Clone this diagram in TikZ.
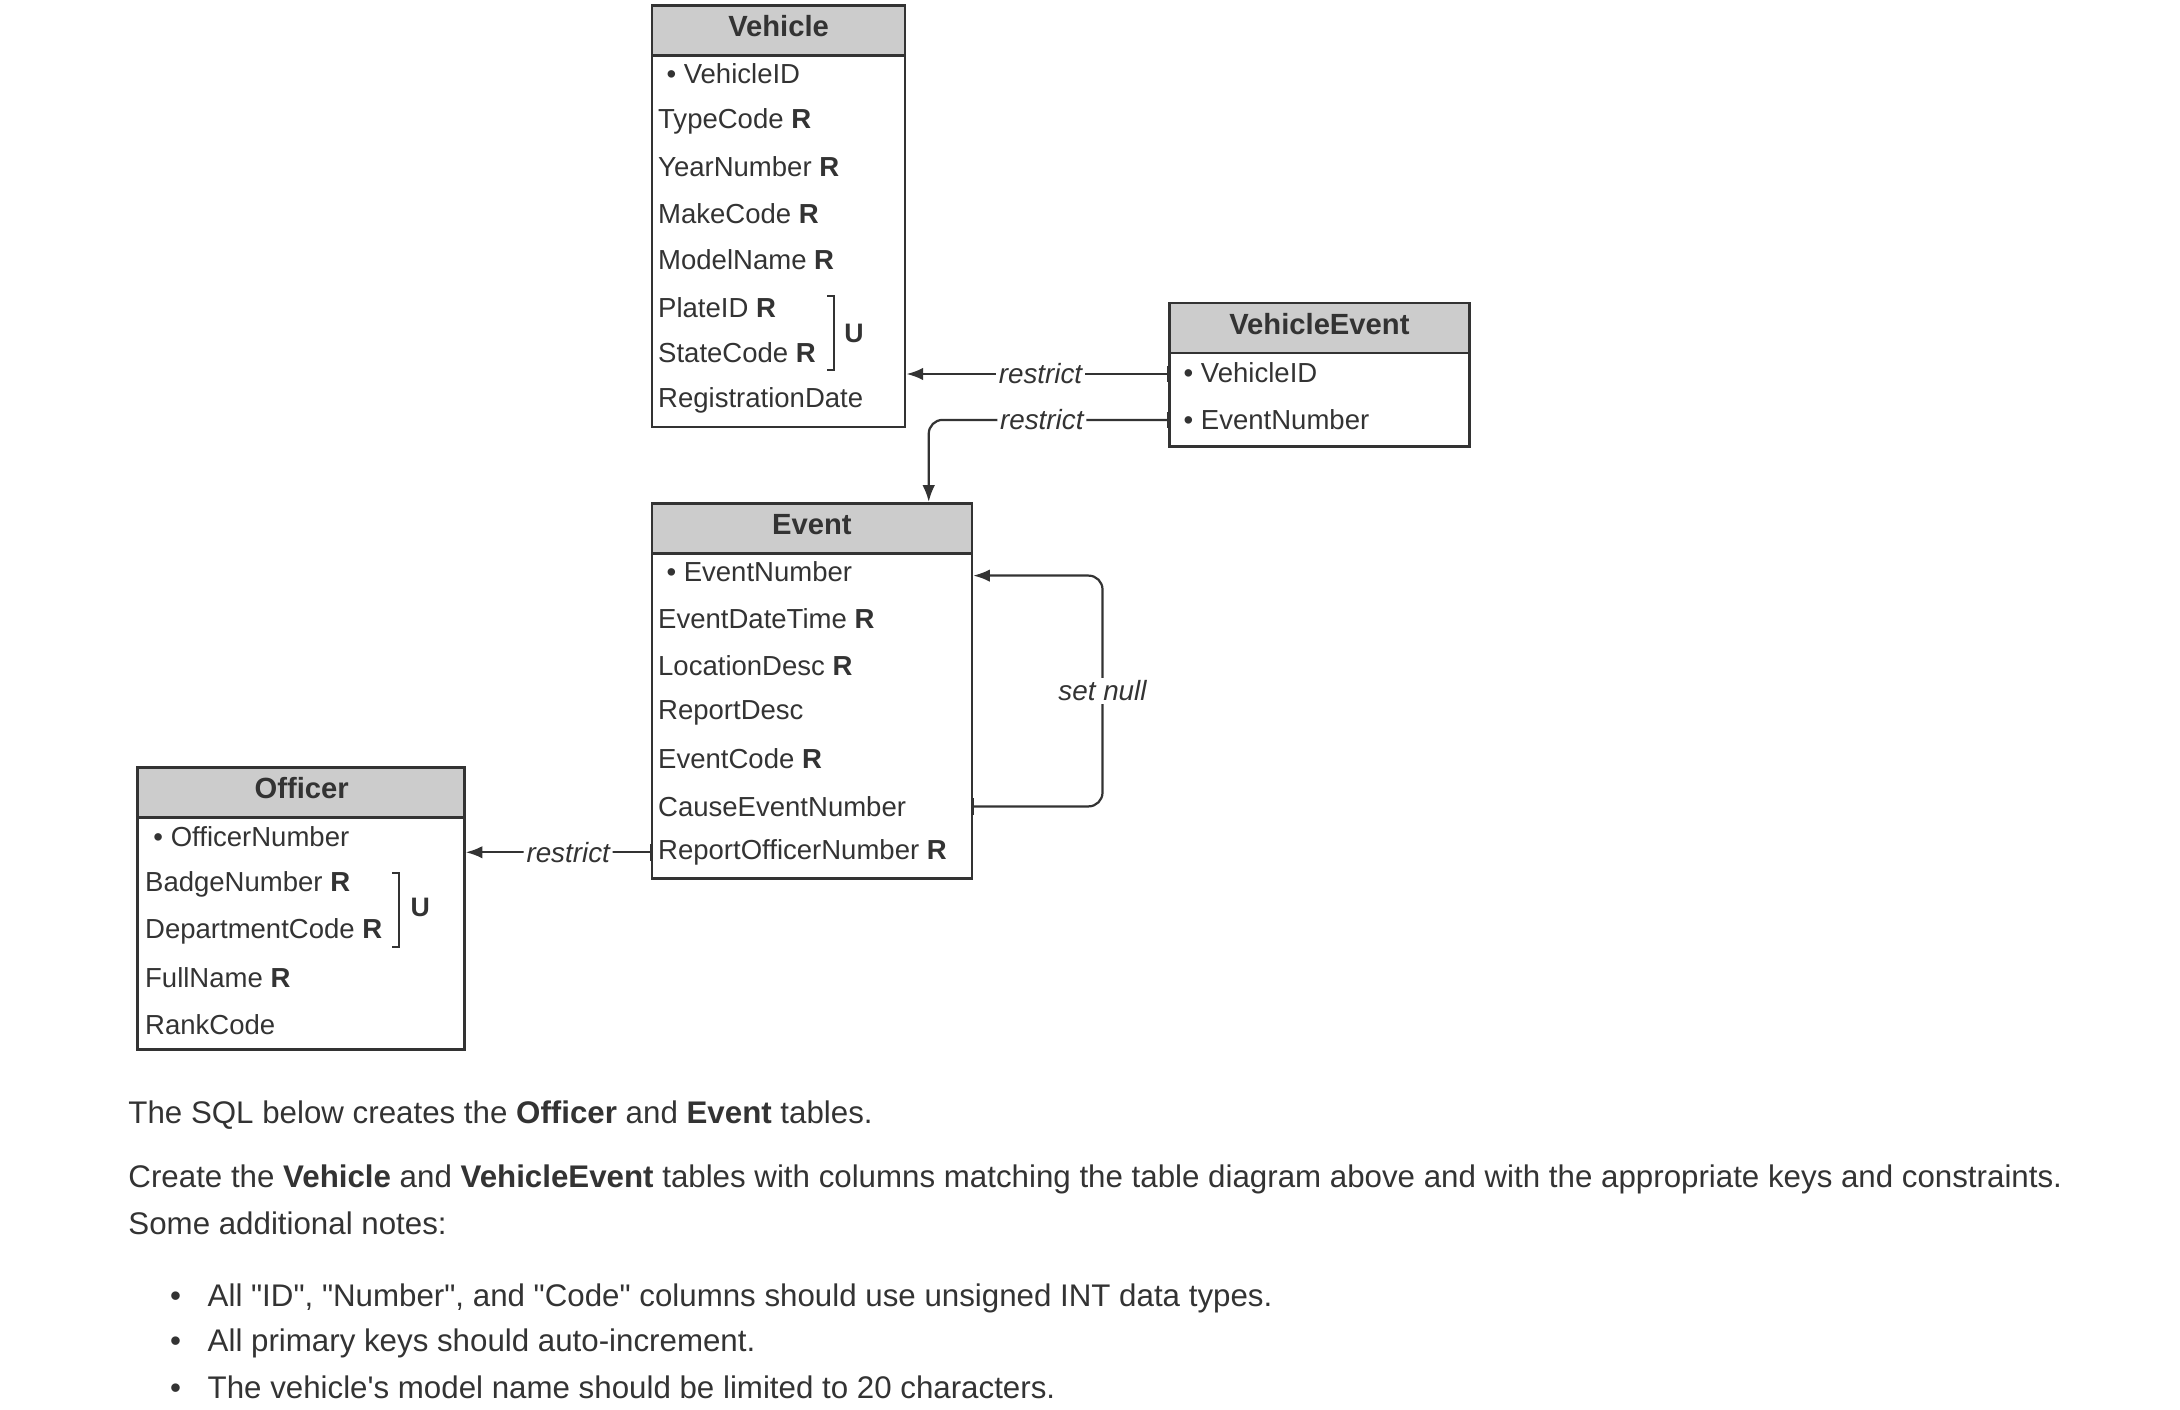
\documentclass[tikz,border=0pt]{standalone}
\usepackage{fontspec}
\setmainfont{Liberation Sans}
\newfontfamily\pf{Liberation Sans}
\usetikzlibrary{arrows.meta}
\definecolor{tx}{HTML}{333333}
\definecolor{hd}{HTML}{CCCCCC}
\newcommand{\dq}{{\pf\symbol{34}}}
\begin{document}
\begin{tikzpicture}[x=0.5pt,y=-0.5pt,
  hdr/.style={draw=tx,fill=hd,line width=0.9pt},
  tbl/.style={draw=tx,line width=0.9pt},
  ttl/.style={font=\fontsize{10.5}{12}\selectfont\bfseries,text=tx},
  row/.style={anchor=west,font=\fontsize{9.9}{11}\selectfont,text=tx,inner sep=0pt},
  body/.style={anchor=west,font=\fontsize{11.25}{13}\selectfont,text=tx,inner sep=0pt},
  lbl/.style={font=\fontsize{10}{12}\selectfont\itshape,text=tx,fill=white,inner sep=1pt},
  conn/.style={draw=tx,line width=0.8pt,{Bar[width=6pt]}-{Latex[length=6pt,width=4.5pt]},rounded corners=5pt}]
\useasboundingbox (0,0) rectangle (1568,1014);
% Vehicle
\draw[tbl] (469,40) rectangle (651,307);
\draw[hdr] (469,4) rectangle (651,40);
\node[ttl] (vt) at (560,19) {Vehicle};
\node[row] (v1) at (479,53) {• VehicleID};
\node[row] (v2) at (473,87) {TypeCode \textbf{R}};
\node[row] (v3) at (473,120) {YearNumber \textbf{R}};
\node[row] (v4) at (473,154) {MakeCode \textbf{R}};
\node[row] (v5) at (473,187) {ModelName \textbf{R}};
\node[row] (v6) at (473,221) {PlateID \textbf{R}};
\node[row] (v7) at (473,254) {StateCode \textbf{R}};
\node[row] (v8) at (473,288) {RegistrationDate};
\draw[tx,line width=0.8pt] (595,213) -- (600,213) -- (600,266) -- (595,266);
\node[row,font=\fontsize{9.6}{11}\selectfont\bfseries] (vu) at (607,240) {U};
% VehicleEvent
\draw[tbl] (841,254) rectangle (1057,321);
\draw[hdr] (841,218) rectangle (1057,254);
\node[ttl] (vet) at (949,233) {VehicleEvent};
\node[row] (ve1) at (851,268) {• VehicleID};
\node[row] (ve2) at (851,302) {• EventNumber};
% Event
\draw[tbl] (469,398) rectangle (699,632);
\draw[hdr] (469,362) rectangle (699,398);
\node[ttl] (et) at (584,377) {Event};
\node[row] (e1) at (479,411) {• EventNumber};
\node[row] (e2) at (473,445) {EventDateTime \textbf{R}};
\node[row] (e3) at (473,479) {LocationDesc \textbf{R}};
\node[row] (e4) at (473,513) {ReportDesc};
\node[row] (e5) at (473,546) {EventCode \textbf{R}};
\node[row] (e6) at (473,580) {CauseEventNumber};
\node[row] (e7) at (473,613) {ReportOfficerNumber \textbf{R}};
% Officer
\draw[tbl] (99,588) rectangle (334,755);
\draw[hdr] (99,552) rectangle (334,588);
\node[ttl] (ot) at (217,567) {Officer};
\node[row] (o1) at (110,602) {• OfficerNumber};
\node[row] (o2) at (104,636) {BadgeNumber \textbf{R}};
\node[row] (o3) at (104,670) {DepartmentCode \textbf{R}};
\node[row] (o4) at (104,703) {FullName \textbf{R}};
\node[row] (o5) at (104,737) {RankCode};
\draw[tx,line width=0.8pt] (282,628) -- (287,628) -- (287,681) -- (282,681);
\node[row,font=\fontsize{9.6}{11}\selectfont\bfseries] (ou) at (295,653) {U};
% connectors
\coordinate (a1) at (841,269); \coordinate (a2) at (652,269);
\draw[conn] (a1) -- node[lbl,pos=0.49]{restrict} (a2);
\coordinate (b1) at (841,302); \coordinate (b2) at (668,302); \coordinate (b3) at (668,361);
\draw[conn] (b1) -- node[lbl,pos=0.53]{restrict} (b2) -- (b3);
\coordinate (c1) at (699,580); \coordinate (c2) at (793,580); \coordinate (c3) at (793,414); \coordinate (c4) at (700,414);
\draw[conn] (c1) -- (c2) -- node[lbl,pos=0.5]{set null} (c3) -- (c4);
\coordinate (d1) at (469,613); \coordinate (d2) at (335,613);
\draw[conn] (d1) -- node[lbl,pos=0.45]{restrict} (d2);
% text
\node[body] (t1) at (92,802) {The SQL below creates the \textbf{Officer} and \textbf{Event} tables.};
\node[body] (t2) at (92,848) {Create the \textbf{Vehicle} and \textbf{VehicleEvent} tables with columns matching the table diagram above and with the appropriate keys and constraints.};
\node[body] (t3) at (92,880) {Some additional notes:};
\node[body] (b1t) at (122,934) {•\hspace{0.85em}All \dq ID\dq, \dq Number\dq, and \dq Code\dq\ columns should use unsigned INT data types.};
\node[body] (b2t) at (122,966) {•\hspace{0.85em}All primary keys should auto-increment.};
\node[body] (b3t) at (122,998) {•\hspace{0.85em}The vehicle{\pf\symbol{39}}s model name should be limited to 20 characters.};
\end{tikzpicture}
\end{document}
